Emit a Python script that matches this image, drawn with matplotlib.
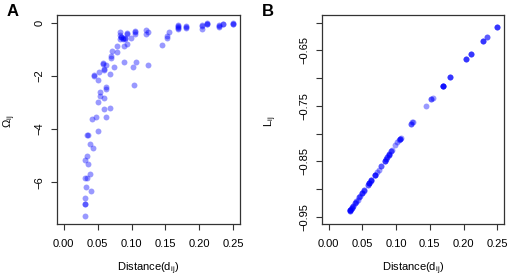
import numpy as np
import matplotlib
matplotlib.use("Agg")
import matplotlib.pyplot as plt

plt.rcParams['font.family'] = ['Liberation Sans', 'DejaVu Sans']
plt.rcParams['mathtext.fontset'] = 'custom'
plt.rcParams['mathtext.rm'] = 'Liberation Sans'
plt.rcParams['mathtext.it'] = 'Liberation Sans'

#
# observations: distance, Omega_ij, L_ij
#
dist = [
    0.169, 0.169, 0.169, 0.169, 0.169,
    0.180, 0.180, 0.180,
    0.204, 0.204, 0.204,
    0.211, 0.211, 0.211,
    0.229, 0.229, 0.229,
    0.235, 0.235,
    0.250, 0.250, 0.250,
    0.155, 0.152, 0.152, 0.145,
    0.122, 0.122, 0.124,
    0.083, 0.083, 0.085, 0.090, 0.087, 0.093, 0.099, 0.105, 0.105, 0.094, 0.089, 0.083,
    0.085, 0.090, 0.093, 0.105, 0.087,
    0.078, 0.071, 0.078, 0.069, 0.069,
    0.058, 0.058, 0.063, 0.060, 0.060, 0.074, 0.068, 0.052, 0.045, 0.045, 0.050,
    0.089, 0.107, 0.102, 0.125, 0.104,
    0.063, 0.063, 0.053, 0.053, 0.060, 0.050, 0.068, 0.060, 0.062, 0.047, 0.041,
    0.050, 0.035, 0.036, 0.039, 0.043, 0.034, 0.032, 0.036, 0.039, 0.032, 0.034,
    0.033, 0.040, 0.031, 0.032, 0.032, 0.031,
]
omega = [
    -0.10, -0.15, -0.20, -0.25, -0.12,
    -0.11, -0.16, -0.21,
    -0.09, -0.14, -0.25,
    0.00, -0.04, -0.06,
    -0.09, -0.13, -0.17,
    -0.05, -0.03,
    0.00, -0.03, -0.06,
    -0.34, -0.49, -0.59, -0.84,
    -0.28, -0.43, -0.36,
    -0.36, -0.46, -0.53, -0.56, -0.63, -0.40, -0.56, -0.30, -0.42, -0.80, -0.88, -0.63,
    -0.55, -0.60, -0.42, -0.35, -0.58,
    -0.86, -1.05, -1.09, -1.25, -1.34,
    -1.53, -1.55, -1.59, -1.73, -1.77, -1.68, -1.93, -1.87, -1.98, -2.00, -2.15,
    -1.49, -1.49, -1.65, -1.60, -2.35,
    -2.43, -2.50, -2.59, -2.74, -2.84, -2.99, -3.19, -3.26, -3.56, -3.53, -3.62,
    -4.06, -4.21, -4.21, -4.56, -4.72, -5.01, -5.17, -5.30, -5.68, -5.85, -5.85,
    -6.18, -6.32, -6.59, -6.82, -6.82, -7.28,
]
L = [
    -0.714, -0.714, -0.714, -0.714, -0.714,
    -0.698, -0.698, -0.698,
    -0.665, -0.665, -0.665,
    -0.656, -0.656, -0.656,
    -0.632, -0.632, -0.632,
    -0.625, -0.625,
    -0.607, -0.607, -0.607,
    -0.735, -0.738, -0.738, -0.750,
    -0.783, -0.783, -0.779,
    -0.849, -0.849, -0.845, -0.837, -0.842, -0.831, -0.821, -0.810, -0.810, -0.830, -0.838, -0.849,
    -0.845, -0.837, -0.831, -0.810, -0.842,
    -0.858, -0.870, -0.858, -0.874, -0.874,
    -0.893, -0.893, -0.884, -0.889, -0.889, -0.865, -0.875, -0.903, -0.915, -0.915, -0.907,
    -0.838, -0.807, -0.815, -0.779, -0.812,
    -0.884, -0.884, -0.902, -0.902, -0.889, -0.907, -0.875, -0.889, -0.886, -0.912, -0.922,
    -0.907, -0.933, -0.931, -0.926, -0.919, -0.935, -0.938, -0.931, -0.926, -0.938, -0.935,
    -0.936, -0.924, -0.940, -0.938, -0.938, -0.940,
]

xticks = [0.00, 0.05, 0.10, 0.15, 0.20, 0.25]
xticklabels = ["0.00", "0.05", "0.10", "0.15", "0.20", "0.25"]
yticksA = [0, -2, -4, -6]
yticklabelsA = ["0", "\u22122", "\u22124", "\u22126"]
yticksB = [-0.95, -0.90, -0.85, -0.80, -0.75, -0.70, -0.65, -0.60]
yticklabelsB = ["\u22120.95", "", "\u22120.85", "", "\u22120.75", "", "\u22120.65", ""]

col = "#0000FF"
fs = 8

fig = plt.figure(figsize=(5.10, 2.77), dpi=100)
axA = fig.add_axes([57/510, 1-224/277, 183/510, 209/277])
axB = fig.add_axes([322/510, 1-224/277, 182/510, 209/277])

def style(ax):
    for s in ax.spines.values():
        s.set_linewidth(0.9)
        s.set_color("#333333")
    ax.tick_params(direction="out", length=4, width=0.8, labelsize=fs, color="#333333")
    ax.tick_params(axis="x", pad=7)
    ax.tick_params(axis="y", pad=5)
    ax.set_xticks(xticks)
    ax.set_xticklabels(xticklabels)
    ax.set_xlim(-0.01, 0.26)
    ax.set_xlabel(r"Distance(d$_{\mathrm{ij}}$)", fontsize=fs)
    ax.xaxis.set_label_coords(0.5, -0.175)

axA.scatter(dist, omega, s=18, c=col, alpha=0.4, linewidths=0)
style(axA)
axA.set_ylim(-7.57, 0.29)
axA.set_yticks(yticksA)
axA.set_yticklabels(yticklabelsA, rotation=90, va="center")
axA.set_ylabel(r"$\Omega_{\mathrm{ij}}$", fontsize=fs)
axA.yaxis.set_label_coords(-0.215, 0.49)

axB.scatter(dist, L, s=18, c=col, alpha=0.4, linewidths=0)
style(axB)
axB.set_ylim(-0.963, -0.586)
axB.set_yticks(yticksB)
axB.set_yticklabels(yticklabelsB, rotation=90, va="center")
axB.set_ylabel(r"L$_{\mathrm{ij}}$", fontsize=fs)
axB.yaxis.set_label_coords(-0.235, 0.49)

fig.text(7/510, 1-11/277, "A", fontsize=12, fontweight="bold", va="center", ha="left")
fig.text(262/510, 1-11/277, "B", fontsize=12, fontweight="bold", va="center", ha="left")

fig.savefig("out.png", dpi=100)
